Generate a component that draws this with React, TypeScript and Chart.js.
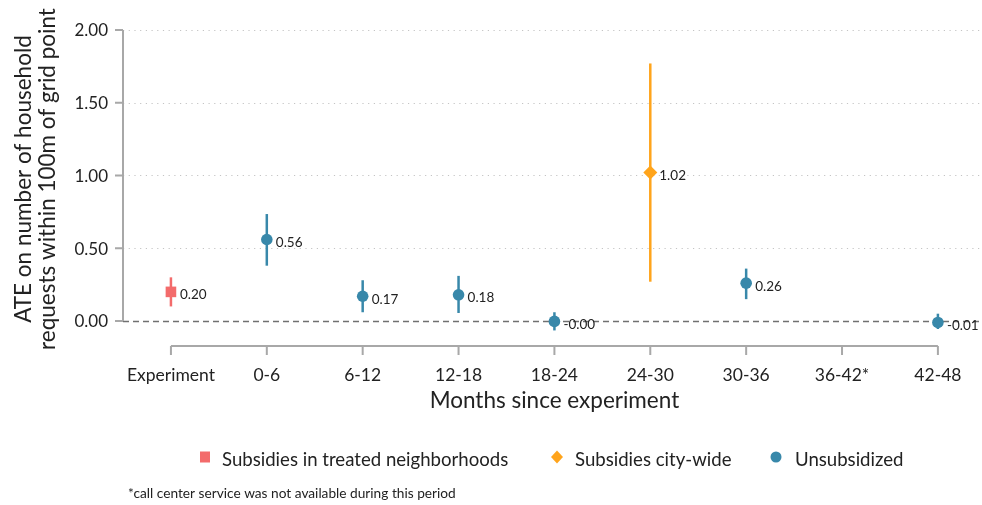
import React, { useEffect, useRef } from 'react';
import { Chart, registerables } from 'chart.js';

Chart.register(...registerables);

const categories = ['Experiment', '0-6', '6-12', '12-18', '18-24', '24-30', '30-36', '36-42*', '42-48'];
const estimates = [0.2, 0.56, 0.17, 0.18, -0.003, 1.02, 0.26, null, -0.01];
const ciLower = [0.1, 0.38, 0.06, 0.055, -0.065, 0.27, 0.15, null, -0.055];
const ciUpper = [0.3, 0.735, 0.28, 0.31, 0.06, 1.77, 0.36, null, 0.05];
const valueLabels = ['0.20', '0.56', '0.17', '0.18', '-0.00', '1.02', '0.26', '', '-0.01'];
const seriesOfCategory = [0, 2, 2, 2, 2, 1, 2, -1, 2];
const seriesNames = ['Subsidies in treated neighborhoods', 'Subsidies city-wide', 'Unsubsidized'];
const seriesColors = ['#f36b6b', '#ffa41b', '#3888aa'];
const seriesShapes = ['rect', 'rectRot', 'circle'];
const yTicks = [0, 0.5, 1, 1.5, 2];
const yTickLabels = ['0.00', '0.50', '1.00', '1.50', '2.00'];
const yTitle = ['ATE on number of household', 'requests within 100m of grid point'];
const xTitle = 'Months since experiment';
const footnote = '*call center service was not available during this period';

const FONT = 'Lato, "Open Sans", sans-serif';
const TEXT = '#222';
const AXIS = '#a8a8a8';

function drawMarker(ctx: CanvasRenderingContext2D, shape: string, x: number, y: number, color: string) {
  ctx.save();
  ctx.fillStyle = color;
  ctx.beginPath();
  if (shape === 'rect') {
    ctx.rect(x - 5, y - 5.5, 10, 11);
  } else if (shape === 'rectRot') {
    ctx.moveTo(x, y - 6.5);
    ctx.lineTo(x + 6, y);
    ctx.lineTo(x, y + 6.5);
    ctx.lineTo(x - 6, y);
    ctx.closePath();
  } else {
    ctx.arc(x, y, 5.5, 0, Math.PI * 2);
  }
  ctx.fill();
  ctx.restore();
}

const decorPlugin = {
  id: 'decor',
  beforeDatasetsDraw(chart: any) {
    const { ctx, chartArea, scales } = chart;
    const xs = scales.x;
    const ys = scales.y;
    const W = chart.width;
    ctx.save();
    // gridlines
    yTicks.forEach((t) => {
      const py = Math.round(ys.getPixelForValue(t)) + 0.5;
      ctx.beginPath();
      if (t === 0) {
        ctx.strokeStyle = '#707070';
        ctx.lineWidth = 1.3;
        ctx.setLineDash([6, 4]);
      } else {
        ctx.strokeStyle = '#c4c4c4';
        ctx.lineWidth = 1;
        ctx.setLineDash([1.2, 4.5]);
      }
      ctx.moveTo(chartArea.left, py);
      ctx.lineTo(W, py);
      ctx.stroke();
    });
    ctx.setLineDash([]);
    // y axis line and ticks
    ctx.strokeStyle = AXIS;
    ctx.lineWidth = 2;
    const y0 = ys.getPixelForValue(yTicks[0]);
    const y1 = ys.getPixelForValue(yTicks[yTicks.length - 1]);
    ctx.beginPath();
    ctx.moveTo(chartArea.left, y0);
    ctx.lineTo(chartArea.left, y1);
    yTicks.forEach((t) => {
      const py = ys.getPixelForValue(t);
      ctx.moveTo(chartArea.left - 8, py);
      ctx.lineTo(chartArea.left, py);
    });
    ctx.stroke();
    // y tick labels
    ctx.fillStyle = TEXT;
    ctx.font = `17px ${FONT}`;
    ctx.textAlign = 'right';
    ctx.textBaseline = 'middle';
    yTicks.forEach((t, i) => {
      ctx.fillText(yTickLabels[i], chartArea.left - 15, ys.getPixelForValue(t) + 1);
    });
    // x axis
    const axY = chartArea.bottom;
    const x0 = xs.getPixelForValue(0);
    const x1 = xs.getPixelForValue(categories.length - 1);
    ctx.beginPath();
    ctx.moveTo(x0, axY);
    ctx.lineTo(x1, axY);
    categories.forEach((_, i) => {
      const px = xs.getPixelForValue(i);
      ctx.moveTo(px, axY);
      ctx.lineTo(px, axY + 9);
    });
    ctx.stroke();
    ctx.textAlign = 'center';
    ctx.font = `17.5px ${FONT}`;
    categories.forEach((c, i) => {
      ctx.fillText(c, xs.getPixelForValue(i), axY + 29);
    });
    // axis titles
    ctx.font = `22.5px ${FONT}`;
    ctx.fillText(xTitle, (x0 + x1) / 2, axY + 55);
    ctx.save();
    ctx.translate(24, 179);
    ctx.rotate(-Math.PI / 2);
    ctx.font = `22.5px ${FONT}`;
    ctx.fillText(yTitle[0], 0, 0);
    ctx.fillText(yTitle[1], 0, 23.5);
    ctx.restore();
    // error bars
    ctx.lineWidth = 2.5;
    categories.forEach((_, i) => {
      const s = seriesOfCategory[i];
      if (s < 0 || ciLower[i] == null) return;
      const px = xs.getPixelForValue(i);
      ctx.strokeStyle = seriesColors[s];
      ctx.beginPath();
      ctx.moveTo(px, ys.getPixelForValue(ciLower[i] as number));
      ctx.lineTo(px, ys.getPixelForValue(ciUpper[i] as number));
      ctx.stroke();
    });
    ctx.restore();
  },
  afterDatasetsDraw(chart: any) {
    const { ctx, scales } = chart;
    const xs = scales.x;
    const ys = scales.y;
    ctx.save();
    ctx.fillStyle = TEXT;
    ctx.font = `13.5px ${FONT}`;
    ctx.textAlign = 'left';
    ctx.textBaseline = 'middle';
    categories.forEach((_, i) => {
      if (estimates[i] == null) return;
      ctx.fillText(valueLabels[i], xs.getPixelForValue(i) + 9, ys.getPixelForValue(estimates[i] as number) + 3);
    });
    // legend
    const legendY = 459;
    const items = [
      { mx: 205, tx: 222 },
      { mx: 557, tx: 575 },
      { mx: 776, tx: 795 },
    ];
    ctx.font = `18.6px ${FONT}`;
    items.forEach((it, s) => {
      drawMarker(ctx, seriesShapes[s], it.mx, legendY - 2, seriesColors[s]);
      ctx.fillStyle = TEXT;
      ctx.fillText(seriesNames[s], it.tx, legendY + 1);
    });
    ctx.font = `13.7px ${FONT}`;
    ctx.fillText(footnote, 128, 494);
    ctx.restore();
  },
};

export default function App() {
  const ref = useRef<HTMLCanvasElement | null>(null);
  useEffect(() => {
    if (!ref.current) return;
    const datasets = seriesNames.map((name, s) => ({
      label: name,
      data: categories
        .map((_, i) => ({ x: i, y: estimates[i] as number, s: seriesOfCategory[i] }))
        .filter((d) => d.s === s)
        .map((d) => ({ x: d.x, y: d.y })),
      backgroundColor: seriesColors[s],
      borderColor: seriesColors[s],
      borderWidth: 0,
      pointStyle: seriesShapes[s] as any,
      pointRadius: s === 0 ? 7.5 : s === 1 ? 7 : 5.8,
      showLine: false,
      clip: false as any,
    }));
    const chart = new Chart(ref.current, {
      type: 'scatter',
      data: { datasets },
      options: {
        animation: false,
        responsive: true,
        maintainAspectRatio: false,
        layout: { autoPadding: false, padding: { left: 123, top: 30, right: 0, bottom: 159 } },
        plugins: { legend: { display: false }, tooltip: { enabled: false } },
        scales: {
          x: { type: 'linear', display: false, min: -0.5, max: 8.46 },
          y: { type: 'linear', display: false, min: -0.172, max: 2 },
        },
      },
      plugins: [decorPlugin],
    });
    return () => chart.destroy();
  }, []);
  return (
    <div style={{ position: 'fixed', left: 0, top: 0, width: 982, height: 505, background: '#fff' }}>
      <canvas ref={ref} />
    </div>
  );
}
